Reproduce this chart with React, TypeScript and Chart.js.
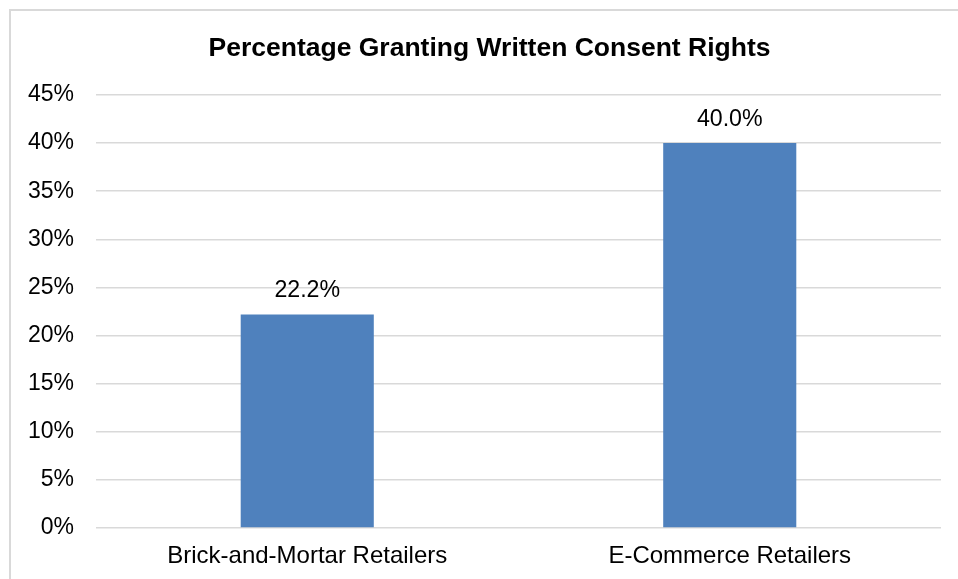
import React, { useEffect, useRef } from "react";
import { Chart, registerables } from "chart.js";

Chart.register(...registerables);

const categories = ["Brick-and-Mortar Retailers", "E-Commerce Retailers"];
const values = [22.2, 40.0];
const yMax = 45;
const yStep = 5;
const titleText = "Percentage Granting Written Consent Rights";

const FONT = "'Liberation Sans', Arial, sans-serif";

const framePlugin = {
  id: "frame",
  beforeDraw(chart: any) {
    const ctx = chart.ctx;
    ctx.save();
    ctx.fillStyle = "#ffffff";
    ctx.fillRect(0, 0, chart.width, chart.height);
    ctx.strokeStyle = "#d9d9d9";
    ctx.lineWidth = 2;
    ctx.strokeRect(10, 10, chart.width + 100, chart.height + 100);
    ctx.restore();
  },
  afterDraw(chart: any) {
    const ctx = chart.ctx;
    ctx.save();
    ctx.font = `bold 26.5px ${FONT}`;
    ctx.fillStyle = "#000000";
    ctx.textAlign = "center";
    ctx.textBaseline = "middle";
    ctx.fillText(titleText, 489.5, 49);
    ctx.restore();
  },
};

const labelPlugin = {
  id: "barLabels",
  afterDatasetsDraw(chart: any) {
    const ctx = chart.ctx;
    const meta = chart.getDatasetMeta(0);
    ctx.save();
    ctx.font = `23.2px ${FONT}`;
    ctx.fillStyle = "#000000";
    ctx.textAlign = "center";
    ctx.textBaseline = "middle";
    meta.data.forEach((bar: any, i: number) => {
      ctx.fillText(values[i].toFixed(1) + "%", bar.x, bar.y - 24);
    });
    ctx.restore();
  },
};

export default function App() {
  const ref = useRef<HTMLCanvasElement | null>(null);
  useEffect(() => {
    if (!ref.current) return;
    const chart = new Chart(ref.current, {
      type: "bar",
      data: {
        labels: categories,
        datasets: [
          {
            data: values,
            backgroundColor: "#4F81BD",
            borderWidth: 0,
            barPercentage: 0.315,
            categoryPercentage: 1,
          },
        ],
      },
      options: {
        responsive: false,
        animation: false,
        devicePixelRatio: 1,
        layout: { padding: { left: 10, right: 17, top: 95, bottom: 0 } },
        plugins: {
          legend: { display: false },
          tooltip: { enabled: false },
          title: { display: false },
        },
        scales: {
          x: {
            grid: { display: false, drawTicks: false },
            border: { display: false },
            ticks: {
              color: "#000000",
              font: { family: FONT, size: 24 },
              padding: 14,
              maxRotation: 0,
            },
            afterFit(scale: any) {
              scale.height = 51;
            },
          },
          y: {
            min: 0,
            max: yMax,
            grid: { color: "#d9d9d9", lineWidth: 1.5, drawTicks: false },
            border: { display: false },
            ticks: {
              stepSize: yStep,
              color: "#000000",
              font: { family: FONT, size: 23 },
              padding: 22,
              callback: (v: any) => v + "%",
            },
            afterFit(scale: any) {
              scale.width = 86;
            },
          },
        },
      },
      plugins: [framePlugin, labelPlugin],
    });
    return () => chart.destroy();
  }, []);
  return (
    <div style={{ position: "fixed", left: 0, top: 0, width: 958, height: 579 }}>
      <canvas ref={ref} width={958} height={579} style={{ display: "block" }} />
    </div>
  );
}
